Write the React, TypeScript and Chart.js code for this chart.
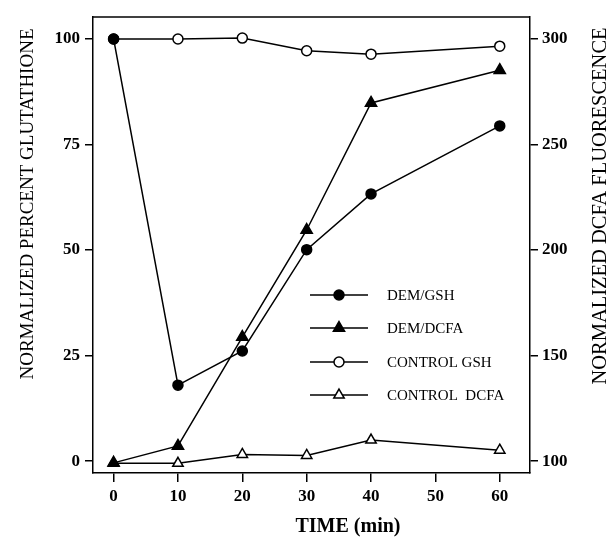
import React, { useEffect, useRef } from 'react';
import { Chart, registerables } from 'chart.js';

Chart.register(...registerables);

const times = [0, 10, 20, 30, 40, 60];
const demGsh = [100, 18.0, 26.1, 50.1, 63.3, 79.4];
const demDcfa = [99.2, 107.2, 158.8, 209.5, 269.7, 285.2];
const controlGsh = [100, 100, 100.2, 97.2, 96.4, 98.3];
const controlDcfa = [99, 99, 103.2, 102.7, 110, 105.2];

const xTicks = [0, 10, 20, 30, 40, 50, 60];
const leftTicks = [0, 25, 50, 75, 100];
const rightTicks = [100, 150, 200, 250, 300];

const seriesNames = ['DEM/GSH', 'DEM/DCFA', 'CONTROL GSH', 'CONTROL  DCFA'];
const xTitle = 'TIME (min)';
const leftTitle = 'NORMALIZED PERCENT GLUTATHIONE';
const rightTitle = 'NORMALIZED DCFA FLUORESCENCE';

const SERIF = '"Liberation Serif", "DejaVu Serif", serif';

function drawMarker(ctx: CanvasRenderingContext2D, style: string, filled: boolean, x: number, y: number, r: number) {
  ctx.save();
  ctx.beginPath();
  if (style === 'circle') {
    ctx.arc(x, y, r, 0, Math.PI * 2);
  } else {
    let rad = 0;
    ctx.moveTo(x + Math.sin(rad) * r, y - Math.cos(rad) * r);
    rad += (2 * Math.PI) / 3;
    ctx.lineTo(x + Math.sin(rad) * r, y - Math.cos(rad) * r);
    rad += (2 * Math.PI) / 3;
    ctx.lineTo(x + Math.sin(rad) * r, y - Math.cos(rad) * r);
  }
  ctx.closePath();
  ctx.fillStyle = filled ? '#000' : '#fff';
  ctx.fill();
  ctx.lineWidth = 1.5;
  ctx.strokeStyle = '#000';
  ctx.stroke();
  ctx.restore();
}

const decorPlugin = {
  id: 'decor',
  afterDraw(chart: any) {
    const ctx: CanvasRenderingContext2D = chart.ctx;
    const a = chart.chartArea;
    ctx.save();
    // top frame line
    ctx.strokeStyle = '#000';
    ctx.lineWidth = 1.5;
    ctx.beginPath();
    ctx.moveTo(a.left, a.top);
    ctx.lineTo(a.right, a.top);
    ctx.stroke();

    // titles
    ctx.fillStyle = '#000';
    ctx.textAlign = 'center';
    ctx.textBaseline = 'middle';
    ctx.font = 'bold 20px ' + SERIF;
    ctx.fillText(xTitle, 348, 527);

    ctx.font = '19px ' + SERIF;
    ctx.save();
    ctx.translate(28, 204);
    ctx.rotate(-Math.PI / 2);
    ctx.fillText(leftTitle, 0, 0);
    ctx.restore();
    ctx.font = '20.5px ' + SERIF;
    ctx.save();
    ctx.translate(601, 206);
    ctx.rotate(-Math.PI / 2);
    ctx.fillText(rightTitle, 0, 0);
    ctx.restore();

    // legend
    const rowY = [295, 328, 362, 395];
    chart.data.datasets.forEach((ds: any, i: number) => {
      const y = rowY[i];
      ctx.strokeStyle = '#000';
      ctx.lineWidth = 1.5;
      ctx.beginPath();
      ctx.moveTo(310, y);
      ctx.lineTo(368, y);
      ctx.stroke();
      drawMarker(ctx, ds.pointStyle, ds.pointBackgroundColor === '#000', 339, y, ds.pointRadius);
      ctx.fillStyle = '#000';
      ctx.font = '15px ' + SERIF;
      ctx.textAlign = 'left';
      ctx.textBaseline = 'middle';
      ctx.fillText(ds.label, 387, y + 1);
    });
    ctx.restore();
  },
};

export default function App() {
  const ref = useRef<HTMLCanvasElement>(null);
  useEffect(() => {
    document.body.style.margin = '0';
    const canvas = ref.current!;
    const mk = (label: string, data: number[], axis: string, style: string, filled: boolean, r: number) => ({
      label,
      data: times.map((t, i) => ({ x: t, y: data[i] })),
      yAxisID: axis,
      borderColor: '#000',
      borderWidth: 1.5,
      pointStyle: style,
      pointRadius: r,
      pointBackgroundColor: filled ? '#000' : '#fff',
      pointBorderColor: '#000',
      pointBorderWidth: 1.5,
      fill: false,
      tension: 0,
    });
    const tickFont = { family: SERIF, size: 17, weight: 'bold' as const };
    const chart = new Chart(canvas, {
      type: 'line',
      data: {
        datasets: [
          mk(seriesNames[0], demGsh, 'yL', 'circle', true, 5),
          mk(seriesNames[1], demDcfa, 'yR', 'triangle', true, 6.5),
          mk(seriesNames[2], controlGsh, 'yL', 'circle', false, 5),
          mk(seriesNames[3], controlDcfa, 'yR', 'triangle', false, 6),
        ] as any,
      },
      options: {
        animation: false,
        responsive: false,
        devicePixelRatio: 1,
        layout: { padding: { top: 17, left: 0, right: 0, bottom: 0 } },
        plugins: { legend: { display: false }, tooltip: { enabled: false } },
        scales: {
          x: {
            type: 'linear',
            min: -3.2,
            max: 64.7,
            afterBuildTicks: (s: any) => { s.ticks = xTicks.map((v) => ({ value: v })); },
            afterFit: (s: any) => { s.height = 68; },
            border: { display: true, color: '#000', width: 1.5 },
            grid: { drawOnChartArea: false, drawTicks: true, tickLength: 9, color: '#000', lineWidth: 1.5 },
            ticks: { color: '#000', font: tickFont, padding: 4, maxRotation: 0 },
          },
          yL: {
            type: 'linear',
            position: 'left',
            min: -2.8,
            max: 105.2,
            afterBuildTicks: (s: any) => { s.ticks = leftTicks.map((v) => ({ value: v })); },
            afterFit: (s: any) => { s.width = 93; },
            border: { display: true, color: '#000', width: 1.5 },
            grid: { drawOnChartArea: false, drawTicks: true, tickLength: 8, color: '#000', lineWidth: 1.5 },
            ticks: { color: '#000', font: tickFont, padding: 5 },
          },
          yR: {
            type: 'linear',
            position: 'right',
            min: 94.4,
            max: 310.4,
            afterBuildTicks: (s: any) => { s.ticks = rightTicks.map((v) => ({ value: v })); },
            afterFit: (s: any) => { s.width = 84; },
            border: { display: true, color: '#000', width: 1.5 },
            grid: { drawOnChartArea: false, drawTicks: true, tickLength: 8, color: '#000', lineWidth: 1.5 },
            ticks: { color: '#000', font: tickFont, padding: 4 },
          },
        },
      } as any,
      plugins: [decorPlugin],
    });
    return () => chart.destroy();
  }, []);
  return <canvas ref={ref} width={614} height={541} style={{ display: 'block' }} />;
}
